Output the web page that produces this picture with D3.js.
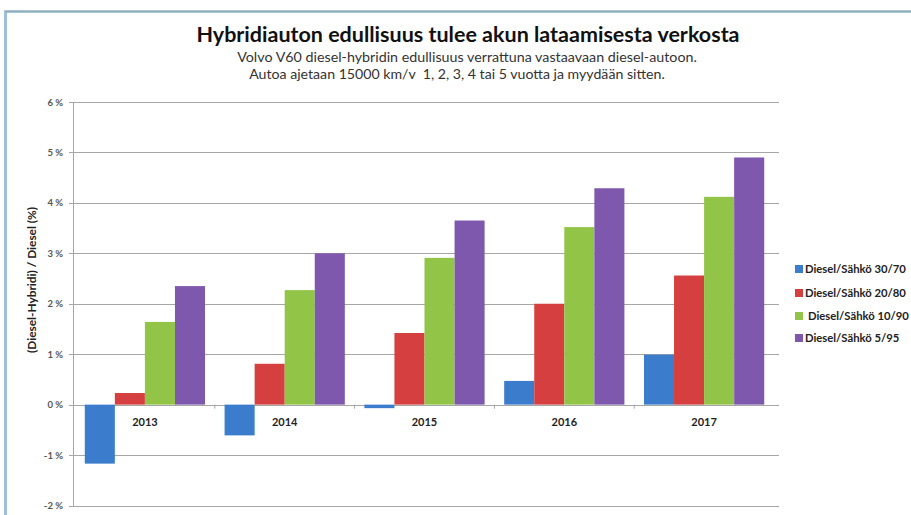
<!DOCTYPE html>
<html><head><meta charset="utf-8">
<script src="https://cdn.jsdelivr.net/npm/d3@7"></script>
<style>
html,body{margin:0;padding:0;background:#fff;}
svg{display:block;}
text{font-family:Lato,"Open Sans",sans-serif;}
</style></head>
<body>
<svg id="chart" width="911" height="515"></svg>
<script>
const categories = ["2013","2014","2015","2016","2017"];
const seriesNames = ["Diesel/Sähkö 30/70","Diesel/Sähkö 20/80","Diesel/Sähkö 10/90","Diesel/Sähkö 5/95"];
const s3070 = [-1.17,-0.61,-0.07,0.47,0.99];
const s2080 = [0.23,0.81,1.42,2.0,2.56];
const s1090 = [1.64,2.27,2.91,3.52,4.12];
const s0595 = [2.35,3.0,3.65,4.29,4.9];
const yTicks = [-2,-1,0,1,2,3,4,5,6];
const seriesColors = ["#3b7dcc","#d63f3f","#92c447","#7d58ad"];

const series = [s3070,s2080,s1090,s0595];
const svg = d3.select("#chart");

function fit(sel, target){
  const n = sel.node();
  const w = n.getComputedTextLength();
  const fs = parseFloat(sel.attr("font-size"));
  if (w > 0) sel.attr("font-size", (fs*target/w).toFixed(2));
  return sel;
}

// frame
svg.append("rect").attr("x",5.5).attr("y",11.5).attr("width",920).attr("height",520)
  .attr("fill","#fff").attr("stroke","#8fb0c0").attr("stroke-width",2.5);
svg.append("line").attr("x1",5.5).attr("x2",5.5).attr("y1",12).attr("y2",515)
  .attr("stroke","#9cc0dc").attr("stroke-width",3);

// titles
fit(svg.append("text").attr("x",468).attr("y",42).attr("text-anchor","middle")
  .attr("font-size",19).attr("font-weight","bold").attr("fill","#111")
  .attr("font-family","'Open Sans',sans-serif")
  .text("Hybridiauton edullisuus tulee akun lataamisesta verkosta"), 543);
fit(svg.append("text").attr("x",467).attr("y",62).attr("text-anchor","middle")
  .attr("font-size",12).attr("fill","#333")
  .text("Volvo V60 diesel-hybridin edullisuus verrattuna vastaavaan diesel-autoon."), 460);
fit(svg.append("text").attr("x",457).attr("y",79).attr("text-anchor","middle")
  .attr("font-size",12).attr("fill","#333").attr("xml:space","preserve")
  .text("Autoa ajetaan 15000 km/v  1, 2, 3, 4 tai 5 vuotta ja myydään sitten."), 416);

const plotL = 73, plotR = 779;
const x = d3.scaleBand().domain(categories).range([75,774]).paddingInner(0.14).paddingOuter(0.07);
const xs = d3.scaleBand().domain(d3.range(series.length)).range([0,x.bandwidth()]);
const y = d3.scaleLinear().domain([-2,6]).range([505.5,102]);

// gridlines
svg.append("g").selectAll("line").data(yTicks).join("line")
  .attr("x1",plotL-4).attr("x2",plotR).attr("y1",d=>Math.round(y(d))+0.5).attr("y2",d=>Math.round(y(d))+0.5)
  .attr("stroke","#a6a6a6").attr("stroke-width",1);
// y axis line
svg.append("line").attr("x1",plotL+0.5).attr("x2",plotL+0.5).attr("y1",y(6)).attr("y2",y(-2)+0.5)
  .attr("stroke","#a6a6a6");

// y axis labels
const yAxis = d3.axisLeft(y).tickValues(yTicks).tickSize(0).tickPadding(10)
  .tickFormat(d=>d+" %");
const ga = svg.append("g").attr("transform",`translate(${plotL},0)`).call(yAxis);
ga.select(".domain").remove();
ga.selectAll("text").attr("font-size",9.5).attr("font-weight","bold").attr("fill","#555")
  .attr("font-family","'DejaVu Serif',serif");

// bars
const bars = svg.append("g");
series.forEach((vals,si)=>{
  bars.selectAll(null).data(vals).join("rect")
    .attr("x",(d,i)=>x(categories[i])+xs(si))
    .attr("width",xs.bandwidth())
    .attr("y",d=>Math.min(y(d),y(0)))
    .attr("height",d=>Math.abs(y(d)-y(0)))
    .attr("fill",seriesColors[si]);
});

// category ticks on zero line
const bounds = categories.slice(1).map(c=>x(c)-x.step()*x.paddingInner()/2);
svg.append("g").selectAll("line").data(bounds).join("line")
  .attr("x1",d=>d).attr("x2",d=>d).attr("y1",y(0)).attr("y2",y(0)+4)
  .attr("stroke","#a6a6a6");

// category labels
svg.append("g").selectAll("text").data(categories).join("text")
  .attr("x",d=>x(d)+x.bandwidth()/2).attr("y",426).attr("text-anchor","middle")
  .attr("font-size",11).attr("font-weight","bold").attr("fill","#222")
  .attr("font-family","'DejaVu Serif',serif")
  .text(d=>d);

// y axis title
fit(svg.append("text").attr("transform","translate(36,280) rotate(-90)").attr("text-anchor","middle")
  .attr("font-size",10).attr("font-weight","bold").attr("fill","#222")
  .text("(Diesel-Hybridi) / Diesel (%)"), 146);

// legend
const legY = [269,293,316,338];
const lg = svg.append("g");
let legFs = null;
seriesNames.forEach((n,i)=>{
  lg.append("rect").attr("x",795).attr("y",legY[i]-4).attr("width",8).attr("height",8).attr("fill",seriesColors[i]);
  const t = lg.append("text").attr("x",i===2?808:805).attr("y",legY[i]+4).attr("font-size",10)
    .attr("font-weight","bold").attr("fill","#222").text(n);
  if (i===0) { fit(t,101); legFs = t.attr("font-size"); } else t.attr("font-size",legFs);
});
</script>
</body></html>
